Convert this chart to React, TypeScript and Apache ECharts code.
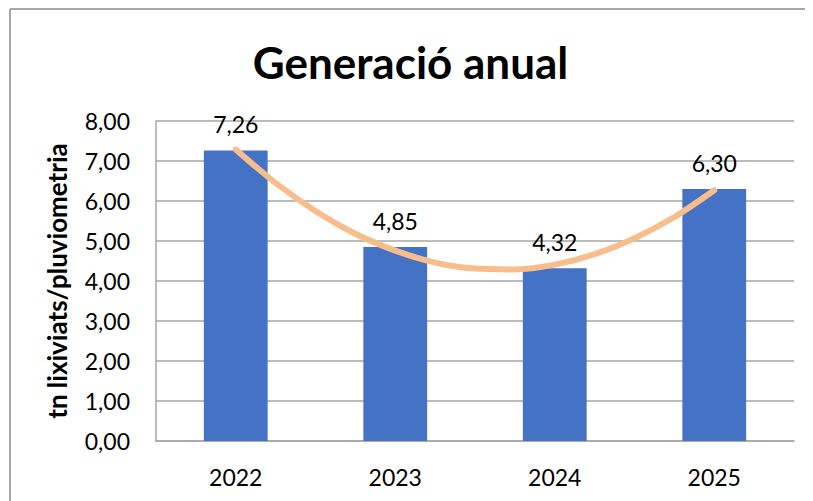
import React, { useEffect, useRef } from "react";
import * as echarts from "echarts";

const categories = ["2022", "2023", "2024", "2025"];
const values = [7.26, 4.85, 4.32, 6.3];
// trendline (polynomial) at positions 1..4 every quarter step
const trendX = [1, 1.25, 1.5, 1.75, 2, 2.25, 2.5, 2.75, 3, 3.25, 3.5, 3.75, 4];
const trendY = [7.29, 6.45, 5.75, 5.18, 4.76, 4.46, 4.31, 4.29, 4.41, 4.67, 5.07, 5.6, 6.27];
const yTicks = [0, 1, 2, 3, 4, 5, 6, 7, 8];

const fmt = (v: number) => v.toFixed(2).replace(".", ",");
const FONT = "Lato";

export default function App() {
  const ref = useRef<HTMLDivElement>(null);
  useEffect(() => {
    if (!ref.current) return;
    const chart = echarts.init(ref.current, null, { renderer: "svg" });
    chart.setOption({
      animation: false,
      backgroundColor: "#ffffff",
      title: {
        text: "Generació anual",
        left: "center",
        top: 27,
        textStyle: { fontFamily: FONT, fontWeight: "bold", fontSize: 44, color: "#000" },
      },
      grid: { left: 148, right: 19, top: 113, bottom: 60 },
      xAxis: [
        {
          type: "category",
          data: categories,
          axisLine: { show: true, lineStyle: { color: "#A6A6A6", width: 1.5 } },
          axisTick: { show: false },
          axisLabel: { fontFamily: FONT, fontSize: 23, color: "#000", margin: 24 },
        },
        {
          type: "value",
          min: 0.5,
          max: 4.5,
          show: false,
          position: "bottom",
        },
      ],
      yAxis: {
        type: "value",
        min: yTicks[0],
        max: yTicks[yTicks.length - 1],
        interval: 1,
        name: "tn lixiviats/pluviometria",
        nameLocation: "middle",
        nameGap: 86,
        nameTextStyle: { fontFamily: FONT, fontWeight: "bold", fontSize: 26, color: "#000" },
        axisLine: { show: true, lineStyle: { color: "#A6A6A6", width: 1.5 } },
        axisTick: { show: false },
        splitLine: { lineStyle: { color: "#A6A6A6", width: 1.5 } },
        axisLabel: {
          fontFamily: FONT,
          fontSize: 23,
          color: "#000",
          margin: 26,
          formatter: (v: number) => fmt(v),
        },
      },
      series: [
        {
          type: "bar",
          data: values,
          barWidth: "40%",
          itemStyle: { color: "#4472C4" },
          label: {
            show: true,
            position: "top",
            distance: 15,
            fontFamily: FONT,
            fontSize: 23,
            color: "#000",
            formatter: (p: any) => fmt(p.value),
          },
        },
        {
          type: "line",
          xAxisIndex: 1,
          data: trendX.map((x, i) => [x, trendY[i]]),
          smooth: 0.3,
          symbol: "none",
          lineStyle: { color: "#F7BE8C", width: 6, cap: "round" },
          z: 5,
        },
      ],
      graphic: [
        { type: "line", shape: { x1: 2, y1: 1, x2: 813, y2: 1 }, style: { stroke: "#A6A6A6", lineWidth: 2 } },
        { type: "line", shape: { x1: 2, y1: 1, x2: 2, y2: 501 }, style: { stroke: "#A6A6A6", lineWidth: 2 } },
      ],
    });
    return () => chart.dispose();
  }, []);
  return <div ref={ref} style={{ width: 805, height: 493 }} />;
}
